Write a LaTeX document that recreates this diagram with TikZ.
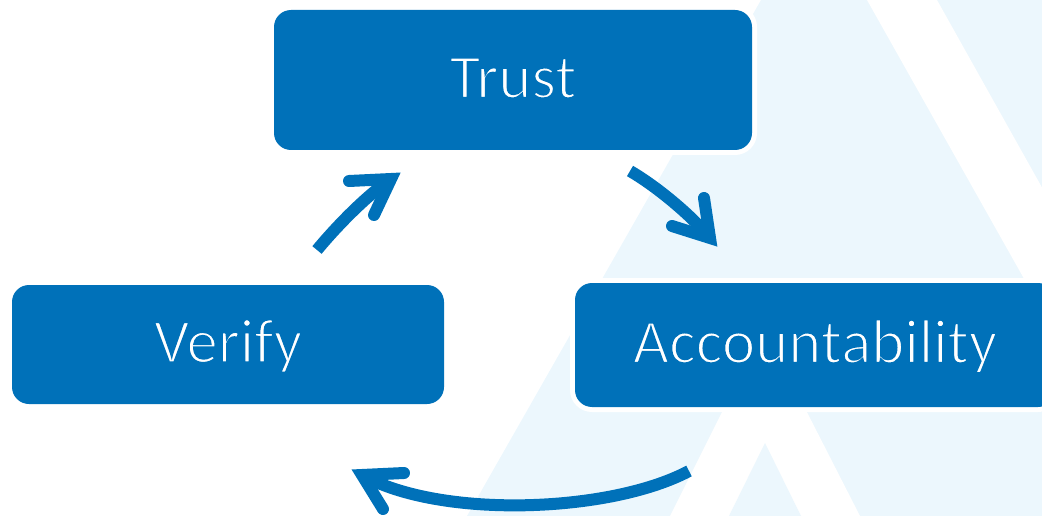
\documentclass[tikz,border=0pt]{standalone}
\usepackage{fontspec}
\setmainfont{Carlito}
\usetikzlibrary{calc}
\definecolor{cycleblue}{RGB}{0,113,185}
\definecolor{palebg}{RGB}{236,247,253}
% thin the glyphs by stroking their outlines in the box colour
\newcommand\thinlabel[1]{\special{pdf:literal direct q 2 Tr 0 0.443 0.725 RG 2.0 w}#1\special{pdf:literal direct Q}}
\begin{document}
\begin{tikzpicture}[x=1pt,y=-1pt,
  stagebox/.style={rounded corners=17pt, fill=cycleblue,
    preaction={draw=white,line width=10pt},
    text=white, inner sep=0pt, font=\fontsize{63}{68}\selectfont,
    text height=36pt, text depth=0pt},
  shaft/.style={draw=cycleblue, line width=12pt, line cap=butt},
  barb/.style={draw=cycleblue, line width=12pt, line cap=round, line join=miter}]
\useasboundingbox (0,0) rectangle (1042,516);
\begin{scope}
\clip (0,0) rectangle (1042,516);
% pale watermark shape in the background
\fill[palebg] (761,0) -- (1042,0) -- (1042,516) -- (467,516) -- cycle;
\fill[white] (867,0) -- (937,0) -- (1105,300) -- (1036,300) -- cycle;
\fill[white] (670,516) -- (764,328) -- (860,516) -- cycle;
\fill[palebg] (729,516) -- (765,443) -- (801,516) -- cycle;

% the three stages
\node[stagebox, minimum width=478pt, minimum height=140pt] (trust) at (513,80) {\thinlabel{Trust}};
\node[stagebox, minimum width=432pt, minimum height=119pt] (verify) at (228,344.5) {\thinlabel{Verify}};
\node[stagebox, minimum width=480pt, minimum height=124pt] (acc) at (815,345) {\thinlabel{Accountability}};

% cycle arrows
\coordinate (a1s) at (317,250);
\coordinate (a1t) at (391,179);
\coordinate (a1w1) at (349,181);
\coordinate (a1w2) at (374,215);
\draw[shaft] (a1s) .. controls (336,227) and (366,196) .. (a1t);
\draw[barb] (a1w1) -- (a1t) -- (a1w2);

\coordinate (a2s) at (630,171);
\coordinate (a2t) at (710,238);
\coordinate (a2w1) at (704,198);
\coordinate (a2w2) at (672,226);
\draw[shaft] (a2s) .. controls (656,186) and (691,215) .. (a2t);
\draw[barb] (a2w1) -- (a2t) -- (a2w2);

\coordinate (a3s) at (689,471);
\coordinate (a3t) at (362,475);
\coordinate (a3w1) at (404,473);
\coordinate (a3w2) at (383,509);
\draw[shaft] (a3s) .. controls (610,513) and (440,519) .. (a3t);
\draw[barb] (a3w1) -- (a3t) -- (a3w2);
\end{scope}
\end{tikzpicture}
\end{document}
